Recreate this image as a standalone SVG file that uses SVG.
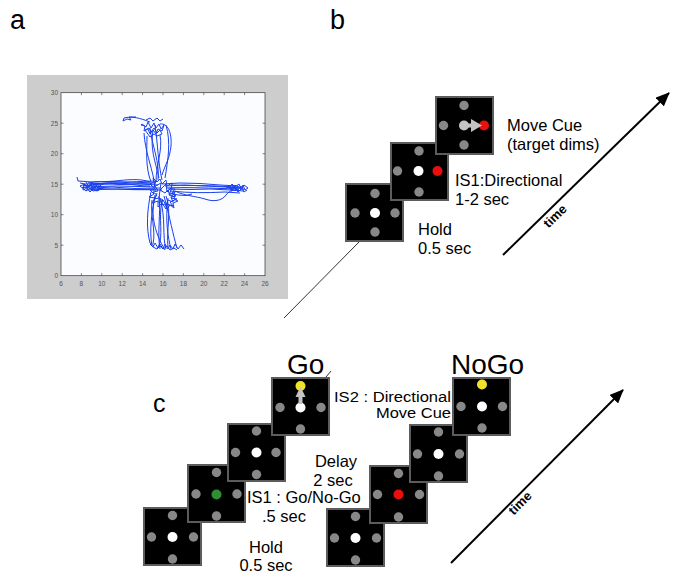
<svg xmlns="http://www.w3.org/2000/svg" xmlns:xlink="http://www.w3.org/1999/xlink" width="678" height="582" viewBox="0 0 678 582">
<defs>
<style>
.lbl{font-family:"Liberation Sans",Arial,Helvetica,sans-serif;font-size:16.5px;fill:#000}
.lbl2{font-family:"Liberation Sans",Arial,Helvetica,sans-serif;font-size:15.5px;fill:#000}
.big{font-family:"Liberation Sans",Arial,Helvetica,sans-serif;font-size:28px;fill:#000}
.pl{font-family:"Liberation Sans",Arial,Helvetica,sans-serif;font-size:27px;fill:#000}
.tick{font-family:"Liberation Sans",Arial,sans-serif;font-size:6.5px;fill:#555}
.time{font-family:"Liberation Sans",Arial,sans-serif;font-size:13px;font-weight:bold;fill:#000}
.box{fill:#000;stroke:#5c5c5c;stroke-width:2}
.g{fill:#888}
.w{fill:#fff}
.r{fill:#e8100c}
.y{fill:#f2e22a}
.gr{fill:#2f8f35}
.lg{fill:#c4c4c4}
.traj{fill:none;stroke:#1a40ec;stroke-width:1;stroke-linejoin:round}
.tk{stroke:#333;stroke-width:0.6}
.conn{stroke:#333;stroke-width:1;fill:none}
.tarrow{stroke:#000;stroke-width:2;fill:none}
</style>
<marker id="ah" viewBox="0 0 14 12" refX="13" refY="6" markerWidth="14" markerHeight="12" markerUnits="userSpaceOnUse" orient="auto">
<path d="M0,0 L14,6 L0,12 z" fill="#000"/>
</marker>
</defs>
<rect width="678" height="582" fill="#fff"/>

<!-- panel labels -->
<text class="pl" x="10" y="29">a</text>
<text class="pl" x="330" y="29">b</text>
<text class="pl" x="153" y="412" style="font-size:25px">c</text>

<!-- panel a plot -->
<g id="plot">
<rect x="27" y="75" width="261" height="224" fill="#cdcdcd"/>
<rect x="61" y="92.7" width="204" height="183" fill="#fafcff" stroke="#333" stroke-width="0.7"/>
<g class="tk">
<path d="M81.4,275.7v-2.5M101.8,275.7v-2.5M122.2,275.7v-2.5M142.6,275.7v-2.5M163,275.7v-2.5M183.4,275.7v-2.5M203.8,275.7v-2.5M224.2,275.7v-2.5M244.6,275.7v-2.5"/>
<path d="M81.4,92.7v2.5M101.8,92.7v2.5M122.2,92.7v2.5M142.6,92.7v2.5M163,92.7v2.5M183.4,92.7v2.5M203.8,92.7v2.5M224.2,92.7v2.5M244.6,92.7v2.5"/>
<path d="M61,245.2h2.5M61,214.7h2.5M61,184.2h2.5M61,153.7h2.5M61,123.2h2.5M265,245.2h-2.5M265,214.7h-2.5M265,184.2h-2.5M265,153.7h-2.5M265,123.2h-2.5"/>
</g>
<g class="tick" text-anchor="middle">
<text x="61" y="286">6</text><text x="81.4" y="286">8</text><text x="101.8" y="286">10</text><text x="122.2" y="286">12</text><text x="142.6" y="286">14</text><text x="163" y="286">16</text><text x="183.4" y="286">18</text><text x="203.8" y="286">20</text><text x="224.2" y="286">22</text><text x="244.6" y="286">24</text><text x="265" y="286">26</text>
</g>
<g class="tick" text-anchor="end">
<text x="58" y="278">0</text><text x="58" y="247.5">5</text><text x="58" y="217">10</text><text x="58" y="186.5">15</text><text x="58" y="156">20</text><text x="58" y="125.5">25</text><text x="58" y="95">30</text>
</g>
<g class="traj">
<path d="M158,185 L140,184 L120,184.5 L100,183.5 L85,184 L80,183"/>
<path d="M160,188 L135,188.5 L112,187 L95,188 L82,187.5"/>
<path d="M155,183 L130,182 L110,181.5 L92,182 L78,181 L77,177"/>
<path d="M162,190 L140,189.5 L118,189 L100,189.5 L86,190"/>
<path d="M150,186 C130,186 120,180 98,184 L84,186"/>
<path d="M157,181 C140,181 120,183 96,185"/>
<path d="M150,182 C140,178 125,180 115,181 C105,182 95,181 88,183"/>
<path d="M156,187 L138,186.5 L118,186 L98,186.5 L83,185.5"/>
<path d="M154,189 C135,191 115,188 90,189"/>
<path d="M152,184 C135,183 125,185 108,183 L92,184"/>
<path d="M84,184 l4,3 l3,-4 l2,5 l3,-4 l2,4 l3,-3 l-2,4 l4,-1 l-6,3 l-4,-2 l-3,3 l-3,-4 l-4,2 z"/>
<path d="M80,186 l5,-2 l2,4 l4,-3 l1,4 l5,-3 l2,4 l-6,1 l-3,-3 l-4,3 z"/>
<path d="M86,182 l3,5 l3,-5 l3,6 l2,-5 l3,4"/>
<path d="M165,186 L185,185 L205,186 L225,187 L242,188"/>
<path d="M168,189 L190,189.5 L210,189 L230,190 L244,191"/>
<path d="M162,184 L180,183 L200,183.5 L220,185 L238,186"/>
<path d="M170,191 C190,193 205,193 225,192 L240,193"/>
<path d="M166,188 C185,187 205,188 222,188.5 L239,189"/>
<path d="M172,185 C192,186 210,185 232,187"/>
<path d="M175,191 C185,196 195,196 205,199 C213,202 222,201 226,195 C228,192 232,190 236,190"/>
<path d="M170,193 L178,195 L186,195.5 L192,194"/>
<path d="M228,186 l3,4 l2,-5 l3,5 l2,-4 l3,4 l2,-5 l2,5 l3,-2 l-4,-3 l-3,4 l-2,-5 l-4,3 l-3,-3 l-3,4 z"/>
<path d="M231,191 l4,-3 l3,4 l4,-4 l2,4 l3,-2"/>
<path d="M226,189 l3,-4 l3,5 l3,-5 l3,5 l3,-4 l3,4"/>
<path d="M155,195 C152,212 149,230 152,246"/>
<path d="M159,196 C161,214 157,232 160,249"/>
<path d="M164,196 C170,218 173,235 177,248"/>
<path d="M157,193 C149,210 154,232 165,250"/>
<path d="M168,198 C165,220 168,238 171,249"/>
<path d="M151,192 C147,210 146,228 150,243 L154,246"/>
<path d="M162,200 C158,220 164,235 158,248"/>
<path d="M166,196 C172,212 166,230 168,247"/>
<path d="M152,200 C150,215 156,230 153,244"/>
<path d="M160,198 C166,218 162,236 166,249"/>
<path d="M150,244 l3,3 l2,-4 l3,5 l2,-4 l3,5 l2,-5 l3,5 l2,-4 l3,4 l2,-5 l3,5 l3,-4 l3,4"/>
<path d="M153,247 l4,2 l3,-3 l3,3 l4,-3 l3,4 l4,-2 l3,2"/>
<path d="M154,180 C151,165 145,150 144,133"/>
<path d="M158,180 C160,162 152,146 150,128"/>
<path d="M162,180 C158,162 158,146 155,125"/>
<path d="M165,178 C168,160 171,142 166,125"/>
<path d="M151,182 C145,166 147,150 147,136"/>
<path d="M156,182 C156,165 163,150 160,135"/>
<path d="M159,178 C155,160 150,150 153,130"/>
<path d="M150,122 C140,118 132,116 124,118 L123,121 L127,119 L131,120 L129,117 L136,117"/>
<path d="M160,124 C168,123 172,133 171,146 C170,158 165,165 162,175"/>
<path d="M142,124 l4,3 l2,-5 l3,6 l3,-5 l2,5 l3,-4 l2,5 l3,-4 l-2,6 l-4,-2 l-2,5 l-3,-4 l-3,4 l-2,-5 l-4,2 l1,-5 l-4,-1 z"/>
<path d="M145,130 l4,-2 l2,4 l3,-4 l3,5 l3,-3 l2,4 l-5,2 l-3,-2 l-4,3 z"/>
<path d="M146,120 l4,-2 l3,3 l4,-3 l3,3 l3,-2"/>
<path d="M150,184 l6,-3 l-2,6 l7,-4 l-1,7 l6,-6 l1,8 l5,-5 l-3,8 l6,-3 l-4,6 l6,1 l-7,3 l3,4 l-6,-2 l-1,5 l-4,-6 l-4,4 l0,-6 l-6,2 l3,-5 l-6,-1 l5,-3 l-4,-4 l6,0 z"/>
<path d="M153,178 l4,4 l3,-3 l2,5 l4,-4 l1,6 l5,-3 l-1,6 l4,0 l-3,4 l4,3 l-5,1 l2,5 l-5,-2 l-2,5 l-3,-5 l-4,3 l0,-5 l-5,1 l3,-4 l-4,-3 l5,-1 l-3,-5 z"/>
<path d="M160,190 l5,3 l3,-3 l2,6 l5,-2 l-1,5 l4,2 l-5,2 l1,5 l-4,-3 l-3,4 l-2,-5 l-4,1 l2,-5 l-4,-2 z"/>
</g>
</g>

<!-- connectors -->
<g id="connectors">
<line class="conn" x1="284" y1="318" x2="359" y2="242"/>
<line class="conn" x1="326" y1="377" x2="331" y2="371"/>
<line class="tarrow" x1="503" y1="255" x2="669" y2="93" marker-end="url(#ah)"/>
<line class="tarrow" x1="451" y1="563" x2="623" y2="390" marker-end="url(#ah)"/>
</g>
<text class="time" transform="translate(555,216) rotate(-44.3)" text-anchor="middle" dominant-baseline="central">time</text>
<text class="time" transform="translate(520,503) rotate(-45)" text-anchor="middle" dominant-baseline="central">time</text>

<!-- panel b -->
<g id="b-hold">
<rect class="box" x="346" y="184" width="57" height="57"/>
<circle class="g" cx="375" cy="193.5" r="4.7"/><circle class="g" cx="355" cy="213" r="4.7"/><circle class="g" cx="395" cy="213" r="4.7"/><circle class="g" cx="375" cy="232" r="4.7"/>
<circle class="w" cx="375" cy="213" r="5"/>
</g>
<g id="b-is1">
<rect class="box" x="391" y="143" width="57" height="57"/>
<circle class="g" cx="419" cy="151" r="4.7"/><circle class="g" cx="397.5" cy="171" r="4.7"/><circle class="g" cx="419" cy="192" r="4.7"/>
<circle class="w" cx="418.5" cy="171" r="5"/>
<circle class="r" cx="437.5" cy="171" r="5"/>
</g>
<g id="b-move">
<rect class="box" x="436" y="97" width="57" height="57"/>
<circle class="g" cx="464" cy="105.5" r="4.7"/><circle class="g" cx="443.5" cy="125.5" r="4.7"/><circle class="g" cx="464" cy="145" r="4.7"/>
<circle class="r" cx="484" cy="125.5" r="5"/>
<circle class="lg" cx="464" cy="125.5" r="5"/>
<rect class="lg" x="464" y="123.5" width="8" height="4"/>
<path class="lg" d="M471,119 L482,125.5 L471,132 z"/>
</g>
<text class="lbl" x="507" y="131">Move Cue</text>
<text class="lbl" x="507" y="150">(target dims)</text>
<text class="lbl" x="455" y="186">IS1:Directional</text>
<text class="lbl" x="455" y="205">1-2 sec</text>
<text class="lbl" x="418" y="235">Hold</text>
<text class="lbl" x="418" y="254">0.5 sec</text>

<!-- panel c Go -->
<text class="big" x="287" y="374">Go</text>
<text class="big" x="451" y="374">NoGo</text>
<g id="go-hold">
<rect class="box" x="144" y="508" width="57" height="57"/>
<circle class="g" cx="172.5" cy="515.5" r="4.7"/><circle class="g" cx="151.5" cy="537" r="4.7"/><circle class="g" cx="193.5" cy="537" r="4.7"/><circle class="g" cx="172.5" cy="559" r="4.7"/>
<circle class="w" cx="172.5" cy="537" r="5"/>
</g>
<g id="go-is1">
<rect class="box" x="188" y="465" width="57" height="57"/>
<circle class="g" cx="216.5" cy="472.5" r="4.7"/><circle class="g" cx="196" cy="494" r="4.7"/><circle class="g" cx="237" cy="494" r="4.7"/><circle class="g" cx="216.5" cy="516" r="4.7"/>
<circle class="gr" cx="216.5" cy="494.5" r="5"/>
</g>
<g id="go-delay">
<rect class="box" x="228" y="424" width="57" height="57"/>
<circle class="g" cx="256.5" cy="431" r="4.7"/><circle class="g" cx="235.5" cy="452.5" r="4.7"/><circle class="g" cx="276" cy="452.5" r="4.7"/><circle class="g" cx="256.5" cy="474.5" r="4.7"/>
<circle class="w" cx="256.5" cy="452.5" r="5"/>
</g>
<g id="go-is2">
<rect class="box" x="272" y="378" width="57" height="57"/>
<circle class="y" cx="300.5" cy="386" r="5"/><circle class="g" cx="280" cy="407.5" r="4.7"/><circle class="g" cx="321" cy="407.5" r="4.7"/><circle class="g" cx="300.5" cy="429" r="4.7"/>
<circle class="w" cx="300.5" cy="407.5" r="5"/>
<rect class="lg" x="298.5" y="396" width="4" height="8"/>
<path class="lg" d="M295.5,397 L300.5,386.5 L305.5,397 z"/>
</g>
<text class="lbl" x="266" y="553" text-anchor="middle">Hold</text>
<text class="lbl" x="266" y="571" text-anchor="middle">0.5 sec</text>
<text class="lbl" x="247" y="503">IS1 : Go/No-Go</text>
<text class="lbl" x="262" y="522">.5 sec</text>
<text class="lbl" x="336" y="467" text-anchor="middle">Delay</text>
<text class="lbl" x="333" y="486" text-anchor="middle">2 sec</text>
<text class="lbl2" x="451" y="402" text-anchor="end" textLength="117" lengthAdjust="spacingAndGlyphs">IS2 : Directional</text>
<text class="lbl2" x="451" y="418" text-anchor="end" textLength="75" lengthAdjust="spacingAndGlyphs">Move Cue</text>

<!-- panel c NoGo -->
<g id="nogo-hold">
<rect class="box" x="327" y="509" width="57" height="57"/>
<circle class="g" cx="355.5" cy="516.5" r="4.7"/><circle class="g" cx="334.5" cy="538" r="4.7"/><circle class="g" cx="376.5" cy="538" r="4.7"/><circle class="g" cx="355.5" cy="560" r="4.7"/>
<circle class="w" cx="355.5" cy="538" r="5"/>
</g>
<g id="nogo-is1">
<rect class="box" x="370" y="466" width="57" height="57"/>
<circle class="g" cx="398.5" cy="473.5" r="4.7"/><circle class="g" cx="377.5" cy="494.5" r="4.7"/><circle class="g" cx="419.5" cy="494.5" r="4.7"/><circle class="g" cx="398.5" cy="517" r="4.7"/>
<circle class="r" cx="398.5" cy="494.5" r="5"/>
</g>
<g id="nogo-delay">
<rect class="box" x="410" y="425" width="57" height="57"/>
<circle class="g" cx="438.5" cy="432" r="4.7"/><circle class="g" cx="417.5" cy="454" r="4.7"/><circle class="g" cx="459.5" cy="454" r="4.7"/><circle class="g" cx="438.5" cy="476" r="4.7"/>
<circle class="w" cx="438.5" cy="454" r="5"/>
</g>
<g id="nogo-is2">
<rect class="box" x="453" y="378" width="57" height="57"/>
<circle class="y" cx="482" cy="384.5" r="5"/><circle class="g" cx="461" cy="406.5" r="4.7"/><circle class="g" cx="502.5" cy="406.5" r="4.7"/><circle class="g" cx="482" cy="428" r="4.7"/>
<circle class="w" cx="482" cy="406.5" r="5"/>
</g>
</svg>
